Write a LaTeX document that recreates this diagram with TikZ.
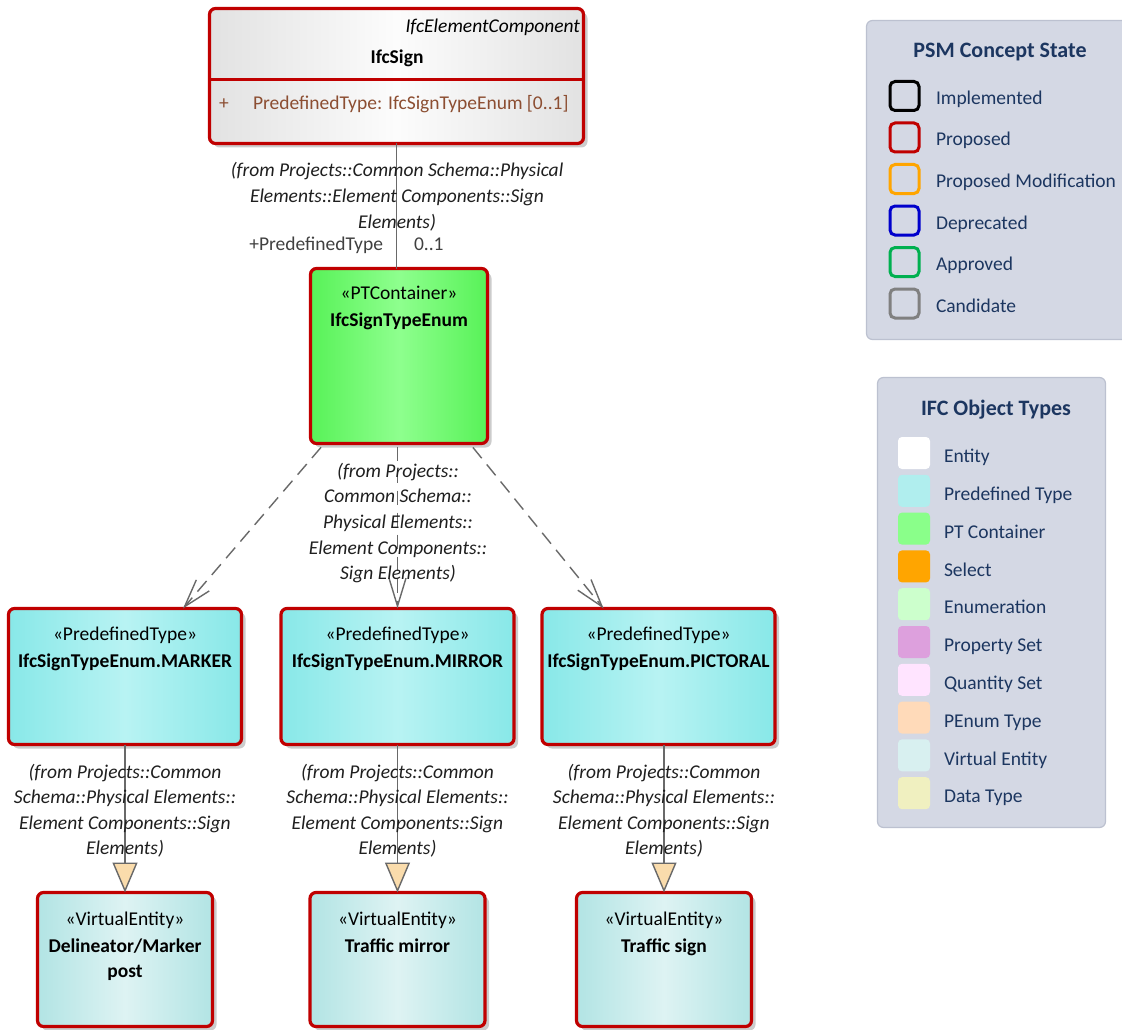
\documentclass[tikz,border=0pt]{standalone}
\usepackage{fontspec}
\setmainfont{Carlito}
\usetikzlibrary{arrows.meta,shadows}
\definecolor{propred}{RGB}{192,0,0}
\definecolor{lineg}{RGB}{105,105,105}
\definecolor{navy}{RGB}{28,54,96}
\definecolor{legbg}{RGB}{212,216,228}
\definecolor{legbd}{RGB}{188,193,208}
\definecolor{attrc}{RGB}{140,78,50}
\definecolor{ptA}{RGB}{136,232,232}
\definecolor{ptB}{RGB}{184,243,243}
\definecolor{pcA}{RGB}{88,242,88}
\definecolor{pcB}{RGB}{142,255,142}
\definecolor{veA}{RGB}{178,228,228}
\definecolor{veB}{RGB}{222,243,243}
\definecolor{enA}{RGB}{226,226,226}
\definecolor{enB}{RGB}{252,252,252}
\definecolor{tri}{RGB}{250,220,172}
\definecolor{stImpl}{RGB}{0,0,0}
\definecolor{stProp}{RGB}{192,0,0}
\definecolor{stMod}{RGB}{255,165,0}
\definecolor{stDep}{RGB}{0,0,204}
\definecolor{stAppr}{RGB}{0,176,80}
\definecolor{stCand}{RGB}{128,128,128}
\definecolor{oEnt}{RGB}{255,255,255}
\definecolor{oPT}{RGB}{176,238,238}
\definecolor{oPTC}{RGB}{138,255,138}
\definecolor{oSel}{RGB}{255,165,0}
\definecolor{oEnum}{RGB}{204,255,204}
\definecolor{oPset}{RGB}{221,160,221}
\definecolor{oQset}{RGB}{255,228,255}
\definecolor{oPEnum}{RGB}{255,218,185}
\definecolor{oVE}{RGB}{216,240,240}
\definecolor{oDT}{RGB}{240,240,192}
\newcommand\myfs{\fontsize{19.5}{24}\selectfont}
\newcommand\mytfs{\fontsize{22}{26}\selectfont}
\begin{document}
\begin{tikzpicture}[x=1pt,y=-1pt,
  every node/.style={inner sep=0pt,outer sep=0pt},
  umlbox/.style={draw=propred,line width=3.2pt,rounded corners=6pt,anchor=north west,
    drop shadow={shadow xshift=4pt,shadow yshift=-4pt,fill=black,opacity=0.2}},
  entfill/.style={left color=enA,right color=enA,middle color=enB},
  ptfill/.style={left color=ptA,right color=ptA,middle color=ptB},
  pcfill/.style={left color=pcA,right color=pcA,middle color=pcB},
  vefill/.style={left color=veA,right color=veA,middle color=veB},
  txt/.style={font=\myfs,anchor=base,text=black},
  boldtxt/.style={font=\myfs\bfseries,anchor=base,text=black},
  lbl/.style={font=\myfs\itshape,anchor=base,text=black!88},
  conn/.style={draw=lineg,line width=1.4pt},
  dep/.style={conn,dash pattern=on 14pt off 8pt,-{Straight Barb[length=28pt,width=17pt,line width=1.4pt]}},
  realz/.style={conn,-{Triangle[length=30pt,width=25pt,fill=tri,line width=1.4pt]}},
  legbox/.style={draw=legbd,fill=legbg,line width=1.2pt,rounded corners=6pt,anchor=north west},
  legtxt/.style={font=\myfs,anchor=base west,text=navy},
  legtitle/.style={font=\mytfs\bfseries,anchor=base,text=navy},
  psmsq/.style={line width=3pt,rounded corners=5pt,minimum size=29pt},
  ifcsq/.style={rounded corners=4pt,minimum size=32pt},
]
\clip (0,0) rectangle (1122,1030);
\fill[white] (0,0) rectangle (1122,1030);

% ---------- Legends ----------
\node[legbox,minimum width=270pt,minimum height=319pt] (psm) at (866.5,20.5) {};
\node[legtitle] (psmT) at (1000,58) {PSM Concept State};
\foreach \c/\t [count=\i from 0] in {stImpl/Implemented,stProp/Proposed,stMod/Proposed Modification,stDep/Deprecated,stAppr/Approved,stCand/Candidate}{
  \node[psmsq,draw=\c] (psq\i) at (904.5,96+41.5*\i) {};
  \node[legtxt] (pst\i) at (936,104.5+41.5*\i) {\t};
}
\node[legbox,minimum width=228pt,minimum height=450pt] (ifc) at (877.5,377.5) {};
\node[legtitle] (ifcT) at (996,415) {IFC Object Types};
\foreach \c/\t [count=\i from 0] in {oEnt/Entity,oPT/Predefined Type,oPTC/PT Container,oSel/Select,oEnum/Enumeration,oPset/Property Set,oQset/Quantity Set,oPEnum/PEnum Type,oVE/Virtual Entity,oDT/Data Type}{
  \node[ifcsq,fill=\c] (isq\i) at (914,453+37.8*\i) {};
  \node[legtxt] (ist\i) at (944,462.7+37.8*\i) {\t};
}

% ---------- Boxes ----------
\node[umlbox,entfill,minimum width=374pt,minimum height=135pt] (ifcsign) at (209.5,8.5) {};
\coordinate (divy) at (0,80);
\draw[propred,line width=3pt] (ifcsign.west |- divy) -- (ifcsign.east |- divy);
\node[font=\myfs\itshape,anchor=base east] (ifcsignS) at (580,33) {IfcElementComponent};
\node[boldtxt] (ifcsignN) at (397,64) {IfcSign};
\node[font=\myfs,anchor=base west,text=attrc] (ifcsignP) at (219,110) {+};
\node[font=\myfs,anchor=base west,text=attrc] (ifcsignA) at (253,110) {PredefinedType: IfcSignTypeEnum [0..1]};

\node[umlbox,pcfill,minimum width=177pt,minimum height=175pt] (ptc) at (310.5,268.5) {};
\node[txt] (ptcS) at (399,299) {«PTContainer»};
\node[boldtxt] (ptcN) at (399,326) {IfcSignTypeEnum};

\node[umlbox,ptfill,minimum width=233pt,minimum height=136pt] (marker) at (8.5,608.5) {};
\node[umlbox,ptfill,minimum width=233pt,minimum height=136pt] (mirror) at (281,608.5) {};
\node[umlbox,ptfill,minimum width=233pt,minimum height=136pt] (pictoral) at (542,608.5) {};
\node[txt] (markerS) at (marker.north |- 0,640) {«PredefinedType»};
\node[boldtxt] (markerN) at (marker.north |- 0,667) {IfcSignTypeEnum.MARKER};
\node[txt] (mirrorS) at (mirror.north |- 0,640) {«PredefinedType»};
\node[boldtxt] (mirrorN) at (mirror.north |- 0,667) {IfcSignTypeEnum.MIRROR};
\node[txt] (pictoralS) at (pictoral.north |- 0,640) {«PredefinedType»};
\node[boldtxt] (pictoralN) at (pictoral.north |- 0,667) {IfcSignTypeEnum.PICTORAL};

\node[umlbox,vefill,minimum width=175pt,minimum height=134pt] (vedel) at (37.5,892.5) {};
\node[umlbox,vefill,minimum width=175pt,minimum height=134pt] (vemir) at (310,892.5) {};
\node[umlbox,vefill,minimum width=175pt,minimum height=134pt] (vesign) at (576.5,892.5) {};
\node[txt] (vedelS) at (vedel.north |- 0,925) {«VirtualEntity»};
\node[boldtxt] (vedelN) at (vedel.north |- 0,952) {Delineator/Marker};
\node[boldtxt] (vedelN2) at (vedel.north |- 0,977) {post};
\node[txt] (vemirS) at (vemir.north |- 0,925) {«VirtualEntity»};
\node[boldtxt] (vemirN) at (vemir.north |- 0,952) {Traffic mirror};
\node[txt] (vesignS) at (vesign.north |- 0,925) {«VirtualEntity»};
\node[boldtxt] (vesignN) at (vesign.north |- 0,952) {Traffic sign};

% ---------- Connectors ----------
\draw[conn] (ifcsign.south) -- (ifcsign.south |- ptc.north);
\draw[dep,shorten <=5pt] (ptc) -- (marker);
\draw[dep,shorten <=3pt] (ptc.south -| mirror.north) -- (mirror.north);
\draw[dep,shorten <=5pt] (ptc) -- (pictoral);
\draw[realz] (marker.south -| vedel.north) -- (vedel.north);
\draw[realz] (mirror.south -| vemir.north) -- (vemir.north);
\draw[realz] (pictoral.south -| vesign.north) -- (vesign.north);

% ---------- Labels ----------
\foreach \t [count=\i from 0] in {{(from Projects::Common Schema::Physical},{Elements::Element Components::Sign},{Elements)}}
  \node[lbl] (topl\i) at (397,177+25.5*\i) {\t};
\node[font=\myfs,anchor=base east,text=black!75] (roleN) at (383,250) {+PredefinedType};
\node[font=\myfs,anchor=base west,text=black!75] (roleM) at (414,250) {0..1};
\foreach \t [count=\i from 0] in {{(from Projects::},{Common Schema::},{Physical Elements::},{Element Components::},{Sign Elements)}}
  \node[lbl] (midl\i) at (398,477+25.7*\i) {\t};
\foreach \x/\n in {125/a,397.5/b,664/c}{
  \foreach \t [count=\i from 0] in {{(from Projects::Common},{Schema::Physical Elements::},{Element Components::Sign},{Elements)}}
    \node[lbl] (botl\n\i) at (\x,778+25.6*\i) {\t};
}
\end{tikzpicture}
\end{document}
